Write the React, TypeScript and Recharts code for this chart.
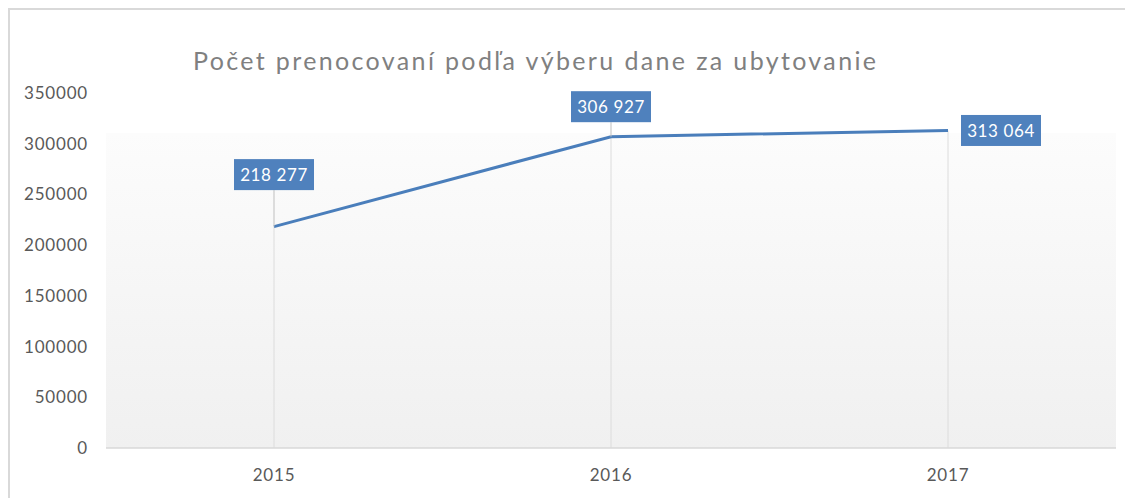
import React from "react";
import { LineChart, Line, XAxis, YAxis, ReferenceLine, CartesianGrid, LabelList } from "recharts";

const TITLE = "Počet  prenocovaní  podľa  výberu  dane za ubytovanie";
const YEARS = ["2015", "2016", "2017"];
const NIGHTS = [218277, 306927, 313064];
const Y_TICKS = [0, 50000, 100000, 150000, 200000, 250000, 300000, 350000];

const data = YEARS.map((y, i) => ({ year: y, value: NIGHTS[i] }));

const W = 1133;
const H = 498;
const BLUE = "#4f81bd";
const FONT = "Lato, 'Open Sans', sans-serif";

// label placement per point: [dx of box center, dy of box center, draw leader]
const LABEL_PLACE: [number, number, boolean][] = [
  [0, -52, true],
  [0, -30, true],
  [53, 0, false],
];

const fmt = (v: number) => {
  const s = String(Math.round(v));
  return s.replace(/\B(?=(\d{3})+(?!\d))/g, " ");
};

const LabelBox = (props: any) => {
  const { x, y, value, index } = props;
  const [dx, dy, leader] = LABEL_PLACE[index] || [0, -30, false];
  const bw = 80;
  const bh = 31;
  const cx = x + dx;
  const cy = y + dy;
  return (
    <g>
      {leader && (
        <line x1={x} y1={cy + bh / 2} x2={x} y2={y} stroke="#bfbfbf" strokeWidth={1} />
      )}
      <rect x={cx - bw / 2} y={cy - bh / 2} width={bw} height={bh} fill={BLUE} />
      <text
        x={cx}
        y={cy}
        textAnchor="middle"
        dominantBaseline="central"
        fill="#ffffff"
        fontSize={17}
        letterSpacing={0.6}
        fontFamily={FONT}
      >
        {fmt(value)}
      </text>
    </g>
  );
};

export default function App() {
  return (
    <div
      style={{
        position: "relative",
        width: W - 8,
        height: H - 8,
        borderTop: "2px solid #d9d9d9",
        borderLeft: "2px solid #d9d9d9",
        boxSizing: "border-box",
        overflow: "visible",
        background: "#ffffff",
      }}
    >
      <div style={{ position: "absolute", left: -10, top: -10, width: W, height: H }}>
        <LineChart
          width={W}
          height={H}
          data={data}
          margin={{ top: 93, right: 17, bottom: 20, left: 26 }}
        >
          <defs>
            <linearGradient id="bgGrad" x1="0" y1="0" x2="0" y2="1">
              <stop offset="0%" stopColor="#ffffff" />
              <stop offset="11.2%" stopColor="#ffffff" />
              <stop offset="11.3%" stopColor="#fcfcfc" />
              <stop offset="100%" stopColor="#f0f0f0" />
            </linearGradient>
          </defs>
          <CartesianGrid horizontal={false} vertical={false} fill="url(#bgGrad)" fillOpacity={1} stroke="none" />
          <XAxis
            dataKey="year"
            padding={{ left: 168, right: 168 }}
            axisLine={{ stroke: "#d9d9d9", strokeWidth: 1.5 }}
            tickLine={false}
            tickSize={6}
            tickMargin={15}
            height={30}
            tick={{ fill: "#595959", fontSize: 17, fontFamily: FONT, letterSpacing: 0.8 }}
          />
          <YAxis
            domain={[0, 350000]}
            ticks={Y_TICKS}
            axisLine={false}
            tickLine={false}
            tickSize={6}
            tickMargin={12}
            width={80}
            interval={0}
            tick={{ fill: "#595959", fontSize: 17, fontFamily: FONT, letterSpacing: 0.8 }}
          />
          {data.map((d) => (
            <ReferenceLine
              key={d.year}
              segment={[
                { x: d.year, y: 0 },
                { x: d.year, y: d.value },
              ]}
              stroke="#dcdcdc"
              strokeWidth={1}
            />
          ))}
          <Line
            type="linear"
            dataKey="value"
            stroke="#4a7ebb"
            strokeWidth={3}
            dot={false}
            activeDot={false}
            isAnimationActive={false}
          >
            <LabelList dataKey="value" content={<LabelBox />} />
          </Line>
        </LineChart>
        <svg
          width={W}
          height={H}
          style={{ position: "absolute", left: 0, top: 0, pointerEvents: "none" }}
        >
          <text
            x={193}
            y={70}
            fontSize={25}
            fill="#808080"
            fontFamily={FONT}
            textLength={683}
            lengthAdjust="spacing"
          >
            {TITLE}
          </text>
        </svg>
      </div>
    </div>
  );
}
